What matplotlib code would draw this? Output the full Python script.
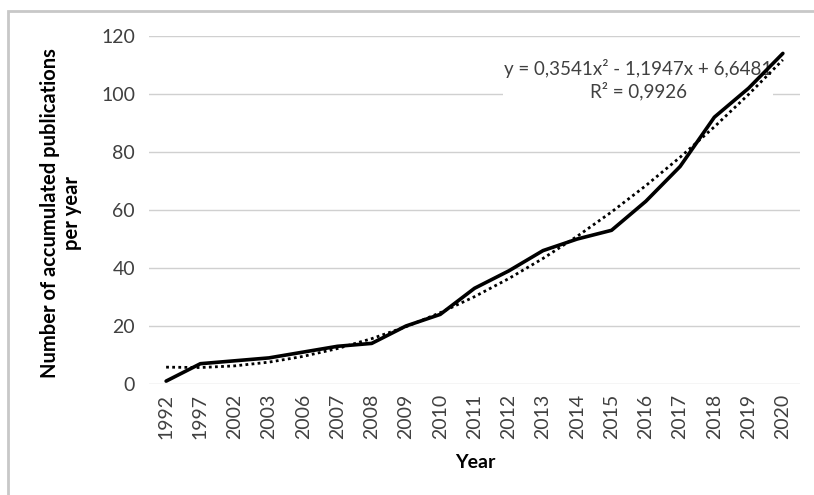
import matplotlib.pyplot as plt
import numpy as np
from matplotlib.patches import Rectangle

plt.rcParams['font.family'] = ['Lato', 'DejaVu Sans']

years = ['1992', '1997', '2002', '2003', '2006', '2007', '2008', '2009', '2010',
         '2011', '2012', '2013', '2014', '2015', '2016', '2017', '2018', '2019', '2020']
publications = [1, 7, 8, 9, 11, 13, 14, 20, 24, 33, 39, 46, 50, 53, 63, 75, 92, 102, 114]
# polynomial trendline coefficients shown on the chart (a, b, c)
trend_coef = [0.3541, -1.1947, 6.6481]
r_squared = '0,9926'

W, H = 814, 495
fig = plt.figure(figsize=(W / 100, H / 100), dpi=100)
fig.patches.append(Rectangle((8 / W, -0.1), 1.2, 0.1 + 1 - 11 / H, transform=fig.transFigure,
                             fill=False, edgecolor='#c8c8c8', lw=2))

ax = fig.add_axes([149 / W, 1 - 384 / H, (800 - 149) / W, (384 - 36) / H])

x = np.arange(len(years))
ax.plot(x, publications, color='black', lw=2.6, solid_capstyle='round', zorder=3)

trend = np.polyval(trend_coef, x + 1)
ax.plot(x, trend, color='black', lw=2, linestyle=(0, (1, 1.2)), zorder=3)

ax.set_xlim(-0.5, len(years) - 0.5)
ax.set_ylim(0, 120)
ax.set_yticks(range(0, 121, 20))
ax.set_xticks(x)
ax.set_xticklabels(years, rotation=90, fontsize=14, color='#404040')
ax.tick_params(axis='y', labelsize=14, labelcolor='#404040', length=0, pad=10)
ax.tick_params(axis='x', length=0, pad=7)
ax.grid(axis='y', color='#d0d0d0', lw=1)
ax.set_axisbelow(True)
for s in ax.spines.values():
    s.set_visible(False)

fig.text(61 / W, 1 - 213 / H, 'Number of accumulated publications\nper year', rotation=90,
         ha='center', va='center', fontsize=14.5, fontweight='bold', linespacing=1.15)
fig.text(475 / W, 1 - 462 / H, 'Year', ha='center', va='center', fontsize=14, fontweight='bold')

# equation label sits under the lines but over the gridlines
ax.text(638 / W, 1 - 80 / H, 'y = 0,3541x² - 1,1947x + 6,6481\nR² = ' + r_squared,
        transform=fig.transFigure, ha='center', va='center', fontsize=13.5, color='#404040',
        linespacing=1.25, bbox=dict(facecolor='white', edgecolor='none', pad=0.5), zorder=1.5)

fig.savefig('out.png', dpi=100)
